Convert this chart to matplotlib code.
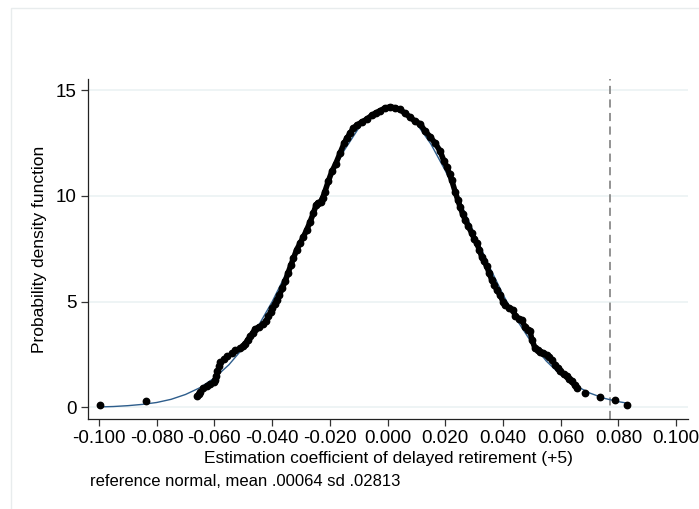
import numpy as np
import matplotlib
matplotlib.use('Agg')
import matplotlib.pyplot as plt
from matplotlib.patches import Rectangle

plt.rcParams['font.family'] = ['Liberation Sans', 'DejaVu Sans']
plt.rcParams['axes.unicode_minus'] = False

# kernel density points (black dots)
kde_x = [-0.0996, -0.0837, -0.0659, -0.0654, -0.0650, -0.0638, -0.0627, -0.0615, -0.0603,
         -0.0598, -0.0594, -0.0590, -0.0585, -0.0580, -0.0568, -0.0557, -0.0540, -0.0528,
         -0.0511, -0.0500, -0.0494, -0.0485, -0.0476, -0.0467, -0.0459, -0.0445, -0.0430,
         -0.0420, -0.0413, -0.0405, -0.0399, -0.0390, -0.0384, -0.0375, -0.0365, -0.0355,
         -0.0345, -0.0335, -0.0326, -0.0315, -0.0303, -0.0292, -0.0280, -0.0269, -0.0257,
         -0.0248, -0.0242, -0.0232, -0.0225, -0.0217, -0.0205, -0.0193, -0.0180, -0.0165,
         -0.0150, -0.0141, -0.0130, -0.0119, -0.0105, -0.0090, -0.0072, -0.0055, -0.0040,
         -0.0026, -0.0010, 0.0009, 0.0025, 0.0043, 0.0060, 0.0078, 0.0095, 0.0113, 0.0130,
         0.0147, 0.0165, 0.0182, 0.0195, 0.0205, 0.0215, 0.0222, 0.0234, 0.0243, 0.0251,
         0.0260, 0.0269, 0.0280, 0.0292, 0.0300, 0.0309, 0.0318, 0.0326, 0.0335, 0.0344,
         0.0352, 0.0361, 0.0370, 0.0378, 0.0390, 0.0400, 0.0407, 0.0420, 0.0436, 0.0442,
         0.0455, 0.0465, 0.0476, 0.0485, 0.0494, 0.0500, 0.0511, 0.0520, 0.0528, 0.0540,
         0.0552, 0.0560, 0.0569, 0.0580, 0.0590, 0.0598, 0.0610, 0.0621, 0.0630, 0.0638,
         0.0648, 0.0656, 0.0684, 0.0736, 0.0788, 0.0829]
kde_y = [0.09, 0.32, 0.52, 0.62, 0.72, 0.90, 1.02, 1.10, 1.20,
         1.30, 1.50, 1.72, 1.95, 2.15, 2.30, 2.43, 2.58, 2.70,
         2.80, 2.88, 3.00, 3.18, 3.35, 3.52, 3.70, 3.80, 3.92,
         4.10, 4.30, 4.50, 4.69, 4.90, 5.09, 5.30, 5.62, 5.95,
         6.35, 6.72, 7.05, 7.45, 7.76, 8.05, 8.39, 8.75, 9.18,
         9.55, 9.66, 9.72, 9.90, 10.20, 10.70, 11.15, 11.50, 12.00,
         12.50, 12.72, 12.95, 13.19, 13.35, 13.48, 13.62, 13.80, 13.92,
         14.02, 14.14, 14.20, 14.16, 14.08, 13.90, 13.72, 13.52, 13.40, 13.05,
         12.80, 12.48, 12.12, 11.65, 11.38, 11.02, 10.75, 10.20, 9.82, 9.49,
         9.15, 8.86, 8.55, 8.23, 7.98, 7.76, 7.45, 7.13, 6.90, 6.66,
         6.35, 6.03, 5.80, 5.56, 5.30, 5.00, 4.85, 4.70, 4.61, 4.30,
         4.20, 4.12, 3.82, 3.68, 3.59, 3.20, 2.80, 2.72, 2.64, 2.56,
         2.49, 2.38, 2.25, 2.02, 1.85, 1.70, 1.58, 1.46, 1.35, 1.23,
         1.05, 0.92, 0.70, 0.50, 0.33, 0.09]

# reference normal curve (blue)
norm_x = [-0.100, -0.095, -0.090, -0.085, -0.080, -0.075, -0.070, -0.065, -0.060, -0.055,
          -0.050, -0.045, -0.040, -0.035, -0.030, -0.025, -0.020, -0.015, -0.010, -0.005,
          0.000, 0.005, 0.010, 0.015, 0.020, 0.025, 0.030, 0.035, 0.040, 0.045,
          0.050, 0.055, 0.060, 0.065, 0.070, 0.075, 0.080, 0.083]
norm_y = [0.02, 0.04, 0.08, 0.14, 0.23, 0.38, 0.61, 0.93, 1.39, 2.01,
          2.81, 3.80, 4.99, 6.36, 7.84, 9.36, 10.84, 12.15, 13.20, 13.90,
          14.18, 14.01, 13.42, 12.45, 11.19, 9.75, 8.23, 6.73, 5.33, 4.09,
          3.04, 2.19, 1.53, 1.04, 0.68, 0.43, 0.27, 0.20]

cutoff = 0.0771
xticks = [-0.10, -0.08, -0.06, -0.04, -0.02, 0.0, 0.02, 0.04, 0.06, 0.08, 0.10]
xtick_labels = ['-0.100', '-0.080', '-0.060', '-0.040', '-0.020', '0.000',
                '0.020', '0.040', '0.060', '0.080', '0.100']
yticks = [0, 5, 10, 15]

fig = plt.figure(figsize=(6.99, 5.09), dpi=100)
fig.patch.set_facecolor('white')
fig.add_artist(Rectangle((11 / 699, -0.1), 1.2, 1 - 8 / 509 + 0.1, transform=fig.transFigure,
                         fill=False, edgecolor='#e8eced', lw=1))

ax = fig.add_axes([88 / 699, 1 - 419 / 509, 600 / 699, 340 / 509])

for y in yticks:
    ax.axhline(y, color='#eaf1f3', lw=1.1, zorder=0)

ax.plot(norm_x, norm_y, color='#2d5d8c', lw=1.0, zorder=2)

kx = np.array(kde_x)
ky = np.array(kde_y)
dense = (kx > -0.050) & (kx < 0.066)
ax.plot(kx[dense], ky[dense], color='black', lw=4.0, solid_capstyle='round',
        solid_joinstyle='round', zorder=3)
ax.plot(kx, ky, 'o', color='black', ms=4.6, zorder=4)

ax.axvline(cutoff, color='#8a8a8a', lw=1.3, ls=(0, (4.5, 3)), zorder=1)

ax.set_xlim(-0.1038, 0.1041)
ax.set_ylim(-0.55, 15.52)
ax.set_xticks(xticks)
ax.set_xticklabels(xtick_labels)
ax.set_yticks(yticks)
ax.tick_params(labelsize=13.5, length=5, width=0.9, color='#333333', pad=3)

for s in ['top', 'right']:
    ax.spines[s].set_visible(False)
for s in ['left', 'bottom']:
    ax.spines[s].set_color('#222222')
    ax.spines[s].set_linewidth(0.9)

fig.text(40 / 699, 1 - 249 / 509, 'Probability density function', rotation=90,
         ha='center', va='center', fontsize=12.5)
fig.text(388 / 699, 1 - 458 / 509, 'Estimation coefficient of delayed retirement (+5)',
         ha='center', va='center', fontsize=12.5)
fig.text(90 / 699, 1 - 482 / 509, 'reference normal, mean .00064 sd .02813',
         ha='left', va='center', fontsize=12)

fig.savefig('out.png', dpi=100)
